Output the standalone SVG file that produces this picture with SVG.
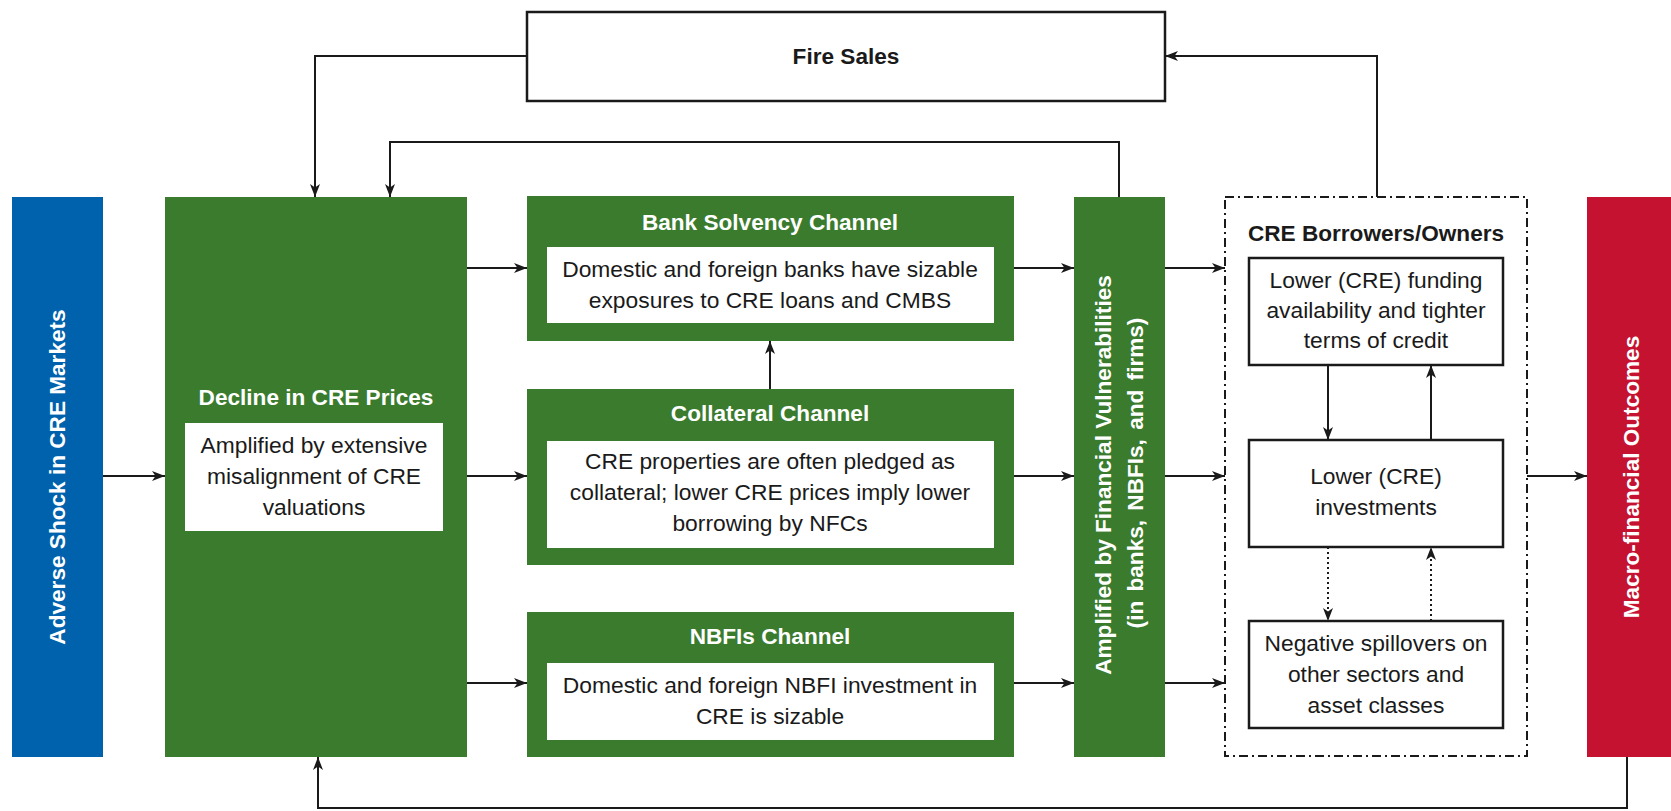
<svg xmlns="http://www.w3.org/2000/svg" width="1671" height="811" viewBox="0 0 1671 811">
<defs>
<style>
.hd{font-family:"Liberation Sans",Arial,sans-serif;font-weight:bold;font-size:22.6px;text-anchor:middle}
.wh{fill:#ffffff}
.bk{fill:#1a1a1a}
.bd{font-family:"Liberation Sans",Arial,sans-serif;font-size:22.8px;text-anchor:middle;fill:#1a1a1a}
.green{fill:#3a7b2e}
.wbox{fill:#ffffff}
.obox{fill:#ffffff;stroke:#1a1a1a;stroke-width:2.5}
.cn{fill:none;stroke:#1a1a1a;stroke-width:2}
.dot{stroke-dasharray:2 3}
</style>
<marker id="ah" viewBox="0 0 13 10" refX="13" refY="5" markerWidth="13" markerHeight="10" markerUnits="userSpaceOnUse" orient="auto">
<path d="M0,0 L13,5 L0,10 L3.5,5 z" fill="#1a1a1a"/>
</marker>
</defs>
<rect width="1671" height="811" fill="#ffffff"/>

<g id="fire-sales">
<rect x="527" y="12" width="638" height="89" fill="#ffffff" stroke="#1a1a1a" stroke-width="2.5"/>
<text class="hd bk" x="846" y="64">Fire Sales</text>
</g>

<g id="adverse-shock">
<rect x="12" y="197" width="91" height="560" fill="#0061ac"/>
<text class="hd wh" transform="translate(57,477) rotate(-90)" y="8">Adverse Shock in CRE Markets</text>
</g>

<g id="decline">
<rect class="green" x="165" y="197" width="302" height="560"/>
<text class="hd wh" x="316" y="405">Decline in CRE Prices</text>
<rect class="wbox" x="185" y="423" width="258" height="108"/>
<text class="bd" x="314" y="453">Amplified by extensive</text>
<text class="bd" x="314" y="484">misalignment of CRE</text>
<text class="bd" x="314" y="515">valuations</text>
</g>

<g id="bank-solvency">
<rect class="green" x="527" y="196" width="487" height="145"/>
<text class="hd wh" x="770" y="230">Bank Solvency Channel</text>
<rect class="wbox" x="547" y="247" width="447" height="76"/>
<text class="bd" x="770" y="277">Domestic and foreign banks have sizable</text>
<text class="bd" x="770" y="308">exposures to CRE loans and CMBS</text>
</g>

<g id="collateral">
<rect class="green" x="527" y="389" width="487" height="176"/>
<text class="hd wh" x="770" y="421">Collateral Channel</text>
<rect class="wbox" x="547" y="441" width="447" height="107"/>
<text class="bd" x="770" y="469">CRE properties are often pledged as</text>
<text class="bd" x="770" y="500">collateral; lower CRE prices imply lower</text>
<text class="bd" x="770" y="531">borrowing by NFCs</text>
</g>

<g id="nbfis">
<rect class="green" x="527" y="612" width="487" height="145"/>
<text class="hd wh" x="770" y="644">NBFIs Channel</text>
<rect class="wbox" x="547" y="663" width="447" height="77"/>
<text class="bd" x="770" y="693">Domestic and foreign NBFI investment in</text>
<text class="bd" x="770" y="724">CRE is sizable</text>
</g>

<g id="amplified">
<rect class="green" x="1074" y="197" width="91" height="560"/>
<text class="hd wh" transform="translate(1103,475) rotate(-90)" y="8">Amplified by Financial Vulnerabilities</text>
<text class="hd wh" transform="translate(1135,473) rotate(-90)" y="8" word-spacing="3">(in banks, NBFIs, and firms)</text>
</g>

<g id="cre-borrowers">
<rect x="1225" y="197" width="302" height="559" fill="none" stroke="#1a1a1a" stroke-width="2" stroke-dasharray="9 4 2 4"/>
<text class="hd bk" x="1376" y="241">CRE Borrowers/Owners</text>
</g>

<g id="lower-funding">
<rect class="obox" x="1249" y="258" width="254" height="107"/>
<text class="bd" x="1376" y="288">Lower (CRE) funding</text>
<text class="bd" x="1376" y="318">availability and tighter</text>
<text class="bd" x="1376" y="348">terms of credit</text>
</g>

<g id="lower-investments">
<rect class="obox" x="1249" y="440" width="254" height="107"/>
<text class="bd" x="1376" y="484">Lower (CRE)</text>
<text class="bd" x="1376" y="515">investments</text>
</g>

<g id="spillovers">
<rect class="obox" x="1249" y="621" width="254" height="107"/>
<text class="bd" x="1376" y="651">Negative spillovers on</text>
<text class="bd" x="1376" y="682">other sectors and</text>
<text class="bd" x="1376" y="713">asset classes</text>
</g>

<g id="macro-outcomes">
<rect x="1587" y="197" width="84" height="560" fill="#c41230"/>
<text class="hd wh" transform="translate(1631,477) rotate(-90)" y="8">Macro-financial Outcomes</text>
</g>

<g id="connectors">
<path class="cn" d="M527,56 H315 V197" marker-end="url(#ah)"/>
<path class="cn" d="M1119,197 V142 H390 V197" marker-end="url(#ah)"/>
<path class="cn" d="M1377,197 V56 H1165" marker-end="url(#ah)"/>
<path class="cn" d="M103,476 H165" marker-end="url(#ah)"/>
<path class="cn" d="M467,268 H527" marker-end="url(#ah)"/>
<path class="cn" d="M467,476 H527" marker-end="url(#ah)"/>
<path class="cn" d="M467,683 H527" marker-end="url(#ah)"/>
<path class="cn" d="M770,389 V341" marker-end="url(#ah)"/>
<path class="cn" d="M1014,268 H1074" marker-end="url(#ah)"/>
<path class="cn" d="M1014,476 H1074" marker-end="url(#ah)"/>
<path class="cn" d="M1014,683 H1074" marker-end="url(#ah)"/>
<path class="cn" d="M1165,268 H1225" marker-end="url(#ah)"/>
<path class="cn" d="M1165,476 H1225" marker-end="url(#ah)"/>
<path class="cn" d="M1165,683 H1225" marker-end="url(#ah)"/>
<path class="cn" d="M1527,476 H1587" marker-end="url(#ah)"/>
<path class="cn" d="M1328,365 V440" marker-end="url(#ah)"/>
<path class="cn" d="M1431,440 V365" marker-end="url(#ah)"/>
<path class="cn dot" d="M1328,547 V621" marker-end="url(#ah)"/>
<path class="cn dot" d="M1431,621 V547" marker-end="url(#ah)"/>
<path class="cn" d="M1627,757 V808 H318 V757" marker-end="url(#ah)"/>
</g>
</svg>
